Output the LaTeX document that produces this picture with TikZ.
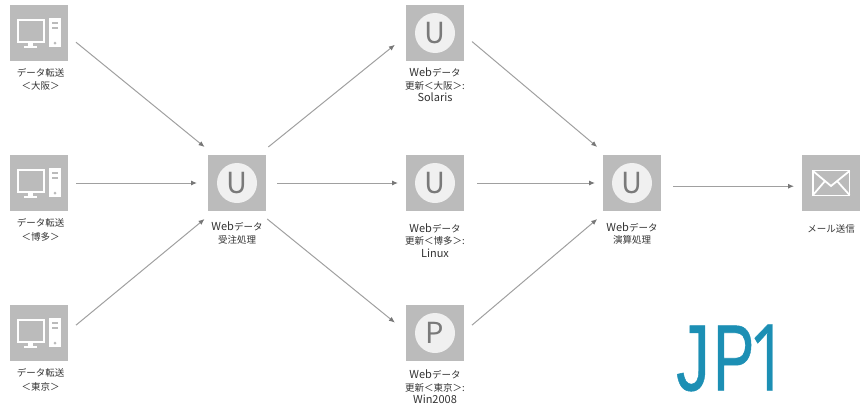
\documentclass[tikz,border=0pt]{standalone}
\usepackage{fontspec}
\setmainfont{Noto Sans CJK JP}
\newfontfamily\logofont[FakeBold=0.6]{Liberation Sans}
\newfontfamily\logodigit[FakeBold=0.6]{Open Sans}
\usetikzlibrary{arrows.meta}
\definecolor{boxgray}{HTML}{BBBBBB}
\definecolor{badgewhite}{HTML}{F0F0F0}
\definecolor{linkgray}{HTML}{A0A0A0}
\definecolor{tipgray}{HTML}{777777}
\definecolor{lettergray}{HTML}{7A7A7A}
\definecolor{textgray}{HTML}{333333}
\definecolor{logoblue}{HTML}{1C8FB4}
\newcommand{\lat}[1]{{\fontsize{11}{12.5}\selectfont #1}}
\tikzset{
  box/.style={fill=boxgray, minimum width=58pt, minimum height=56pt, inner sep=0pt, outer sep=8pt},
  badge/.style={circle, fill=badgewhite, text=lettergray, minimum size=40pt, inner sep=0pt, font=\fontsize{29}{29}\selectfont},
  lbl/.style={align=center, text=textgray, font=\fontsize{9.5}{12.5}\selectfont},
  link/.style={draw=linkgray, line width=1pt, -{Latex[length=6pt,width=5pt,color=tipgray]}},
  icon/.style={draw=white, line width=1.8pt}
}
\begin{document}
\begin{tikzpicture}[x=1pt,y=-1pt]
\useasboundingbox (0,0) rectangle (864,407);
\node[box] (pc1) at (39,33) {};
\node[box] (pc2) at (39,183) {};
\node[box] (pc3) at (39,333) {};
\node[box] (hub) at (237,183) {};
\node[box] (upd1) at (435,33) {};
\node[box] (upd2) at (435,183) {};
\node[box] (upd3) at (435,333) {};
\node[box] (calc) at (632,183) {};
\node[box] (mail) at (831,183) {};
\node[badge] (hubu) at (hub.center) {U};
\node[badge] (upd1u) at (upd1.center) {U};
\node[badge] (upd2u) at (upd2.center) {U};
\node[badge] (upd3p) at (upd3.center) {P};
\node[badge] (calcu) at (calc.center) {U};
\foreach \n in {pc1,pc2,pc3}
{
\begin{scope}[shift={(\n.center)}]
\draw[icon] (-21,-13) rectangle (5,9);
\fill[white] (-11,10) rectangle (-6,13);
\fill[white] (-15,12.5) rectangle (-2,14.5);
\fill[white] (10,-15) rectangle (22,14);
\fill[boxgray] (13,-11) rectangle (19,-9);
\fill[boxgray] (13,-6) rectangle (19,-4);
\fill[boxgray] (16,10) circle (1.5);
\end{scope}
}
\draw[icon] (813,170.5) rectangle (849.5,195.5);
\draw[icon] (813,171) -- (831,186) -- (849.5,171);
\draw[icon] (813,195) -- (825,181);
\draw[icon] (849.5,195) -- (837,181);
\node[lbl] (pc1t) at (40.5,79.5) {データ転送\\[1pt]＜大阪＞};
\node[lbl] (pc2t) at (40.5,230) {データ転送\\[1pt]＜博多＞};
\node[lbl] (pc3t) at (40.5,380) {データ転送\\[1pt]＜東京＞};
\node[lbl] (hubt) at (237,233) {\lat{Web}データ\\受注処理};
\node[lbl] (upd1t) at (435,85) {\lat{Web}データ\\更新＜大阪＞:\\\lat{Solaris}};
\node[lbl] (upd2t) at (435,240.5) {\lat{Web}データ\\更新＜博多＞:\\\lat{Linux}};
\node[lbl] (upd3t) at (435,387) {\lat{Web}データ\\更新＜東京＞:\\\lat{Win2008}};
\node[lbl] (calct) at (632,233.5) {\lat{Web}データ\\演算処理};
\node[lbl] (mailt) at (831,229) {メール送信};
\draw[link] (pc1.-14) -- (hub.132);
\draw[link, shorten >=3pt] (pc2.east) -- (hub.west);
\draw[link] (pc3.12) -- (hub.228);
\draw[link, shorten >=4pt] (hub.49) -- (upd1.194);
\draw[link, shorten <=3pt] (hub.east) -- (upd2.west);
\draw[link, shorten >=4pt] (hub.-50) -- (upd3.168);
\draw[link] (upd1.-13) -- (calc.134);
\draw[link, shorten <=5pt] (upd2.east) -- (calc.west);
\draw[link] (upd3.12) -- (calc.226);
\draw[link, shorten <=4pt] (calc.-5) -- (mail.185);
\node[text=logoblue, inner sep=0pt, font=\logofont\fontsize{94}{94}\selectfont] (logo) at (732,358) {\scalebox{.72}[1]{J}\kern3pt\scalebox{.66}[1]{P}\kern-6pt\scalebox{.75}[1]{\logodigit\fontsize{92}{92}\selectfont 1}};
\end{tikzpicture}
\end{document}
